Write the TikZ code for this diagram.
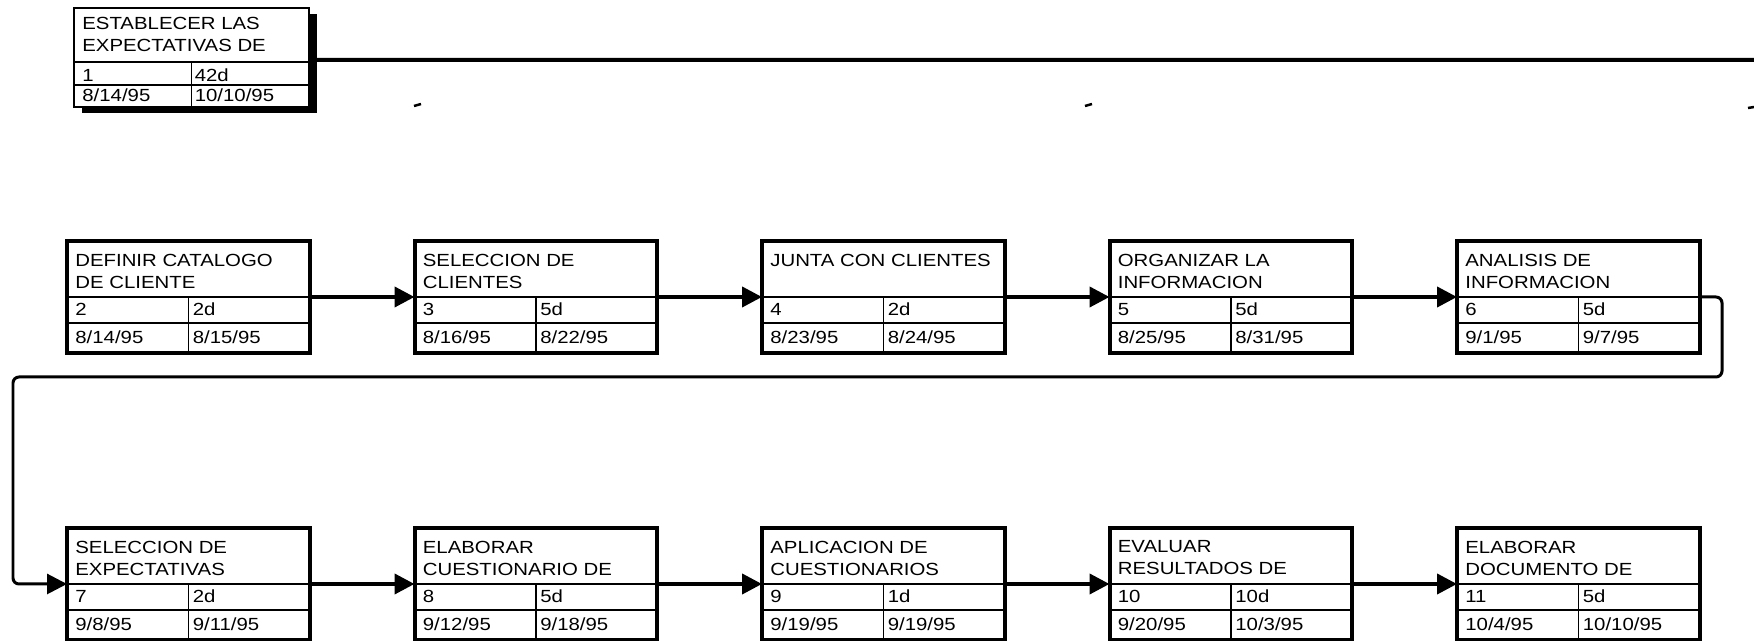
\documentclass[tikz,border=0pt]{standalone}
\usepackage{fontspec}
\setmainfont{Liberation Sans}[FakeStretch=1.16]
\usetikzlibrary{arrows.meta,shadows}

\tikzset{
    tarea/.style={draw,line width=0.08cm,minimum width=4.86cm,minimum height=2.24cm,inner sep=0pt,outer sep=0pt,anchor=north west},
    inicio/.style={draw,fill=white,line width=0.04cm,minimum width=4.7cm,minimum height=1.98cm,inner sep=0pt,outer sep=0pt,anchor=north west,
        drop shadow={shadow xshift=0.16cm,shadow yshift=-0.12cm,fill=black,opacity=1}},
    division/.style={line width=0.035cm},
    titulo/.style={anchor=north west,align=left,inner sep=0pt,font=\fontsize{10}{12.5}\selectfont},
    dato/.style={anchor=base west,inner sep=0pt,font=\fontsize{10}{12.5}\selectfont},
    flecha/.style={line width=0.08cm,-{Triangle[length=0.4cm,width=0.4cm]}},
    lazo/.style={line width=0.06cm,rounded corners=0.12cm,-{Triangle[length=0.4cm,width=0.4cm]}},
    linea/.style={line width=0.08cm},
    marca/.style={line width=0.05cm}
}

\newcommand{\tarea}[7]{%
    \node[tarea] (#1) at (#2) {};
    \coordinate (#1-in) at ([yshift=-1.12cm]#1.north west);
    \coordinate (#1-out) at ([yshift=-1.12cm]#1.north east);
    \draw[division] (#1-in) -- (#1-out);
    \draw[division] ([yshift=-1.64cm]#1.north west) -- ([yshift=-1.64cm]#1.north east);
    \draw[division] ([yshift=-1.12cm]#1.north) -- (#1.south);
    \node[titulo] (#1-tit) at ([xshift=0.16cm,yshift=-0.25cm]#1.north west) {#3};
    \node[dato] (#1-id) at ([xshift=0.16cm,yshift=-1.5cm]#1.north west) {#4};
    \node[dato] (#1-dur) at ([xshift=0.08cm,yshift=-1.5cm]#1.north) {#5};
    \node[dato] (#1-ini) at ([xshift=0.16cm,yshift=-2.06cm]#1.north west) {#6};
    \node[dato] (#1-fin) at ([xshift=0.08cm,yshift=-2.06cm]#1.north) {#7};
}

\begin{document}
\begin{tikzpicture}[x=0.02cm,y=-0.02cm]
        \useasboundingbox (0,0) rectangle (1754,641);

        % tarea resumen
        \node[inicio] (t1) at (74,8) {};
        \draw[division] ([yshift=-1.08cm]t1.north west) -- ([yshift=-1.08cm]t1.north east);
        \draw[division] ([yshift=-1.54cm]t1.north west) -- ([yshift=-1.54cm]t1.north east);
        \draw[division] ([yshift=-1.08cm]t1.north) -- (t1.south);
        \node[titulo] (t1-tit) at ([xshift=0.16cm,yshift=-0.18cm]t1.north west) {ESTABLECER LAS\\EXPECTATIVAS DE};
        \node[dato] (t1-id) at ([xshift=0.16cm,yshift=-1.48cm]t1.north west) {1};
        \node[dato] (t1-dur) at ([xshift=0.06cm,yshift=-1.48cm]t1.north) {42d};
        \node[dato] (t1-ini) at ([xshift=0.16cm,yshift=-1.88cm]t1.north west) {8/14/95};
        \node[dato] (t1-fin) at ([xshift=0.06cm,yshift=-1.88cm]t1.north) {10/10/95};
        \coordinate (t1-out) at ([yshift=-1.04cm]t1.north east);
        \coordinate (limite) at (1754,60);
        \draw[linea] (t1-out) -- (limite);
        \draw[marca] (414,106) -- (421,104);
        \draw[marca] (1085,106) -- (1092,104);
        \draw[marca] (1748,108) -- (1754,107);

        % primera fila
        \tarea{t2}{67,241}{DEFINIR CATALOGO\\DE CLIENTE}{2}{2d}{8/14/95}{8/15/95}
        \tarea{t3}{414.5,241}{SELECCION DE\\CLIENTES}{3}{5d}{8/16/95}{8/22/95}
        \tarea{t4}{762,241}{JUNTA CON CLIENTES}{4}{2d}{8/23/95}{8/24/95}
        \tarea{t5}{1109.5,241}{ORGANIZAR LA\\INFORMACION}{5}{5d}{8/25/95}{8/31/95}
        \tarea{t6}{1457,241}{ANALISIS DE\\INFORMACION}{6}{5d}{9/1/95}{9/7/95}

        % segunda fila
        \tarea{t7}{67,528}{SELECCION DE\\EXPECTATIVAS}{7}{2d}{9/8/95}{9/11/95}
        \tarea{t8}{414.5,528}{ELABORAR\\CUESTIONARIO DE}{8}{5d}{9/12/95}{9/18/95}
        \tarea{t9}{762,528}{APLICACION DE\\CUESTIONARIOS}{9}{1d}{9/19/95}{9/19/95}
        \tarea{t10}{1109.5,528}{EVALUAR\\RESULTADOS DE}{10}{10d}{9/20/95}{10/3/95}
        \tarea{t11}{1457,528}{ELABORAR\\DOCUMENTO DE}{11}{5d}{10/4/95}{10/10/95}

        \draw[flecha] (t2-out) -- (t3-in);
        \draw[flecha] (t3-out) -- (t4-in);
        \draw[flecha] (t4-out) -- (t5-in);
        \draw[flecha] (t5-out) -- (t6-in);
        \coordinate (vuelta) at (1722,377);
        \coordinate (retorno) at (13,377);
        \draw[lazo] (t6-out) -| (vuelta) -- (retorno) |- (t7-in);
        \draw[flecha] (t7-out) -- (t8-in);
        \draw[flecha] (t8-out) -- (t9-in);
        \draw[flecha] (t9-out) -- (t10-in);
        \draw[flecha] (t10-out) -- (t11-in);
\end{tikzpicture}
\end{document}
